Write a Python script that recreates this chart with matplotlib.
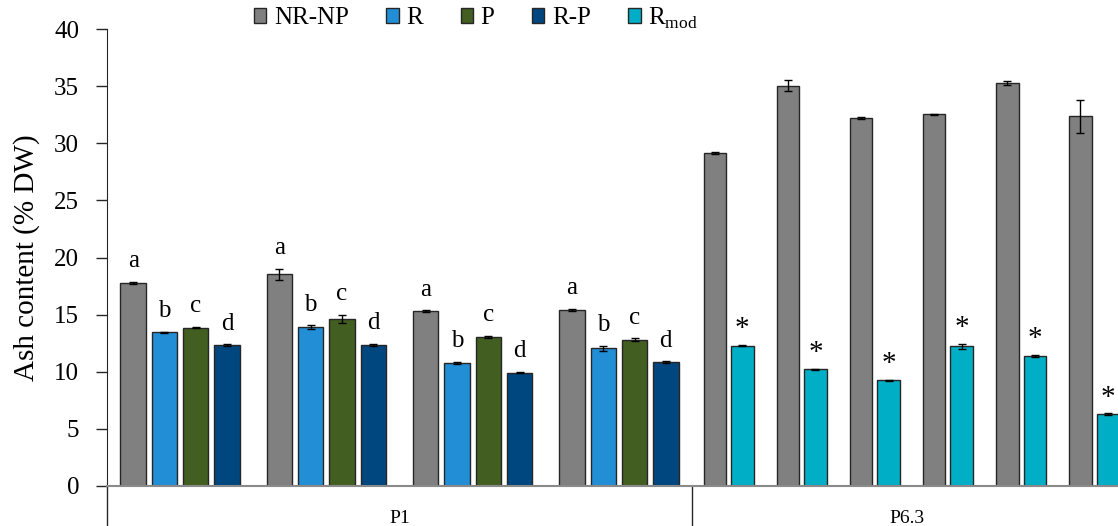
import numpy as np
import matplotlib
matplotlib.use("Agg")
import matplotlib.pyplot as plt
from matplotlib.patches import Patch

plt.rcParams['font.family'] = ['Liberation Serif', 'DejaVu Serif']
plt.rcParams['mathtext.fontset'] = 'custom'
plt.rcParams['mathtext.rm'] = 'Liberation Serif'

# P1 block: four sampling groups, four treatments each
p1_series = ["NR-NP", "R", "P", "R-P"]
p1_means = np.array([
    [17.8, 18.55, 15.3, 15.4],    # NR-NP
    [13.45, 13.92, 10.78, 12.05],  # R
    [13.86, 14.62, 13.04, 12.81],  # P
    [12.31, 12.37, 9.92, 10.85],   # R-P
])
p1_err = np.array([
    [0.08, 0.48, 0.08, 0.08],
    [0.07, 0.15, 0.06, 0.2],
    [0.06, 0.36, 0.07, 0.12],
    [0.08, 0.1, 0.06, 0.05],
])
p1_letters = ["a", "b", "c", "d"]

# P6.3 block: six groups, NR-NP vs Rmod
p63_gray = [29.15, 35.05, 32.21, 32.53, 35.27, 32.36]
p63_gray_err = [0.07, 0.45, 0.07, 0.05, 0.15, 1.45]
p63_mod = [12.28, 10.21, 9.25, 12.23, 11.38, 6.3]
p63_mod_err = [0.05, 0.07, 0.05, 0.2, 0.07, 0.06]

block_labels = ["P1", "P6.3"]
yticks = [0, 5, 10, 15, 20, 25, 30, 35, 40]

colors = {"NR-NP": "#808080", "R": "#218ED6", "P": "#425E20",
          "R-P": "#00467F", "Rmod": "#00AEC6"}
edge = "#262626"

fig = plt.figure(figsize=(11.18, 5.26), dpi=100)
ax = fig.add_axes([107 / 1118, 40 / 526, 1011 / 1118, 457 / 526])

err_kw = dict(ecolor="black", elinewidth=1, capsize=3, capthick=1)

# P1 groups occupy one x-unit each
p1_step, p1_width = 0.214, 0.174
for k, name in enumerate(p1_series):
    xs = np.arange(4) + 0.5 + (k - 1.5) * p1_step
    ax.bar(xs, p1_means[k], p1_width, yerr=p1_err[k], color=colors[name],
           edgecolor=edge, linewidth=1, error_kw=err_kw, zorder=2)
    for x, m, e in zip(xs, p1_means[k], p1_err[k]):
        ax.annotate(p1_letters[k], (x, m + e), xytext=(0, 7),
                    textcoords="offset points", ha="center", va="bottom",
                    fontsize=18)

# P6.3 groups are half a unit wide, starting after the P1 block
p63_step, p63_width = 0.188, 0.154
centers = 4 + 0.25 + 0.5 * np.arange(6)
ax.bar(centers - p63_step / 2, p63_gray, p63_width, yerr=p63_gray_err,
       color=colors["NR-NP"], edgecolor=edge, linewidth=1,
       error_kw=err_kw, zorder=2)
xm = centers + p63_step / 2
ax.bar(xm, p63_mod, p63_width, yerr=p63_mod_err, color=colors["Rmod"],
       edgecolor=edge, linewidth=1, error_kw=err_kw, zorder=2)
for x, m, e in zip(xm, p63_mod, p63_mod_err):
    ax.annotate("*", (x, m + e), xytext=(0, 2), textcoords="offset points",
                ha="center", va="bottom", fontsize=21)

ax.set_ylim(0, 40)
ax.set_xlim(0, 1011 / 146.25)
ax.set_yticks(yticks)
ax.set_xticks([])
ax.tick_params(axis="y", direction="out", length=8, width=1,
               labelsize=18, pad=12, color="#262626")
for s in ["top", "right", "bottom"]:
    ax.spines[s].set_visible(False)
ax.spines["left"].set_color("#262626")
ax.axhline(0, color="#8a8a8a", lw=1.5, zorder=3, clip_on=False)

# block separators and labels below the baseline
for xsep in [0, 4]:
    ax.plot([xsep, xsep], [0, -3.6], color="#262626", lw=1, clip_on=False)
ax.text(2.0, -2.85, block_labels[0], ha="center", va="center", fontsize=14)
ax.text(centers.mean() - 0.03, -2.85, block_labels[1], ha="center",
        va="center", fontsize=14)

fig.text(27 / 1118, 1 - 258 / 526, "Ash content (% DW)", rotation=90,
         ha="center", va="center", fontsize=21)

handles = [Patch(facecolor=colors[n], edgecolor=edge, linewidth=1)
           for n in ["NR-NP", "R", "P", "R-P", "Rmod"]]
labels = ["NR-NP", "R", "P", "R-P", r"R$_{\mathrm{mod}}$"]
fig.legend(handles, labels, loc="center", bbox_to_anchor=(476 / 1118, 1 - 18 / 526),
           ncol=5, frameon=False, fontsize=18, handlelength=0.5,
           handleheight=0.5, handletextpad=0.3, columnspacing=1.5)

fig.savefig("out.png", dpi=100)
